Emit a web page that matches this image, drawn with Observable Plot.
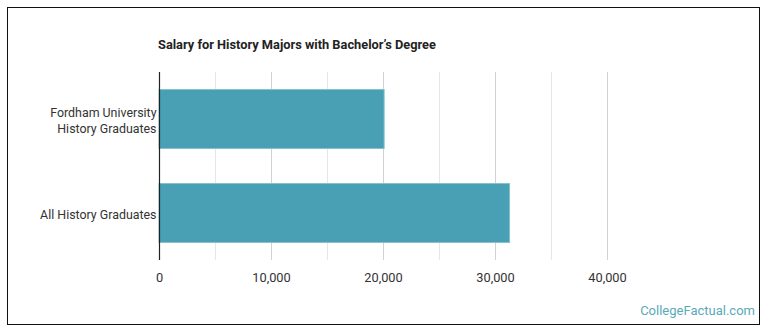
<!DOCTYPE html>
<html>
<head>
<meta charset="utf-8">
<script src="https://cdn.jsdelivr.net/npm/d3@7"></script>
<script src="https://cdn.jsdelivr.net/npm/@observablehq/plot@0.6"></script>
<style>
  html, body { margin: 0; padding: 0; background: #fff; }
  #wrap { position: relative; width: 770px; height: 335px; font-family: Roboto, sans-serif; overflow: hidden; }
  #frame { position: absolute; left: 7px; top: 7px; width: 753px; height: 318px; border: 1.5px solid #111; box-sizing: border-box; }
  #title { position: absolute; left: 158px; top: 37px; font-size: 12.8px; font-weight: bold; color: #222; }
  #mark { position: absolute; right: 15px; top: 303px; font-size: 13px; color: #5aaab8; }
  #chart { position: absolute; left: 0; top: 0; }
</style>
</head>
<body>
<div id="wrap">
  <div id="chart"></div>
  <div id="frame"></div>
  <div id="title">Salary for History Majors with Bachelor’s Degree</div>
  <div id="mark">CollegeFactual.com</div>
</div>
<script>
const categories = ["Fordham University\nHistory Graduates", "All History Graduates"];
const salaries = [20100, 31300];
const gridTicks = [5000, 10000, 15000, 20000, 25000, 30000, 35000, 40000];
const majorTicks = [10000, 20000, 30000, 40000];
const labelTicks = [0, 10000, 20000, 30000, 40000];

const data = categories.map((c, i) => ({category: c, salary: salaries[i]}));
const minorTicks = gridTicks.filter(t => !majorTicks.includes(t));

const chart = Plot.plot({
  width: 770,
  height: 335,
  marginLeft: 159,
  marginRight: 51,
  marginTop: 72,
  marginBottom: 75,
  style: {fontFamily: "Roboto, sans-serif", fontSize: "12.5px", color: "#333", background: "transparent"},
  x: {domain: [0, 50000]},
  y: {domain: categories, paddingInner: 0.36, paddingOuter: 0.18},
  marks: [
    Plot.ruleX(minorTicks, {stroke: "#e6e6e6", strokeWidth: 1}),
    Plot.ruleX(majorTicks, {stroke: "#d2d2d2", strokeWidth: 1}),
    Plot.barX(data, {x: "salary", y: "category", fill: "#49a0b4", stroke: "#86c1cd", strokeWidth: 1, insetTop: 0.5, insetBottom: 0.5}),
    Plot.ruleX([0], {stroke: "#222", strokeWidth: 1.2}),
    Plot.axisX({ticks: labelTicks, tickSize: 0, tickPadding: 12, tickFormat: d3.format(","), label: null, fontSize: 12.8, fill: "#333"}),
    Plot.axisY({tickSize: 0, tickPadding: 3, label: null, fontSize: 12.4, lineHeight: 1.35, fill: "#333"})
  ]
});
document.getElementById("chart").appendChild(chart);
</script>
</body>
</html>
